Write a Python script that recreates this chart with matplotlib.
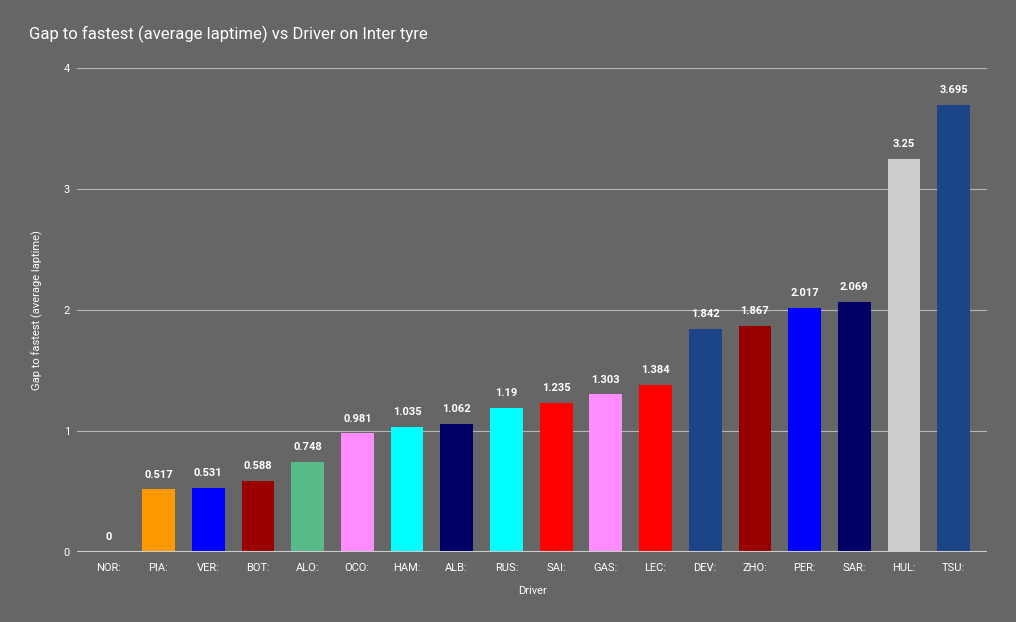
import matplotlib.pyplot as plt
import numpy as np

drivers = ['NOR:', 'PIA:', 'VER:', 'BOT:', 'ALO:', 'OCO:', 'HAM:', 'ALB:', 'RUS:',
           'SAI:', 'GAS:', 'LEC:', 'DEV:', 'ZHO:', 'PER:', 'SAR:', 'HUL:', 'TSU:']
gaps = [0, 0.517, 0.531, 0.588, 0.748, 0.981, 1.035, 1.062, 1.19,
        1.235, 1.303, 1.384, 1.842, 1.867, 2.017, 2.069, 3.25, 3.695]
bar_colors = ['#ff9900', '#ff9900', '#0000ff', '#990000', '#57bb8a', '#ff8cff', '#00ffff',
              '#000066', '#00ffff', '#ff0000', '#ff8cff', '#ff0000', '#1c4587', '#990000',
              '#0000ff', '#000066', '#cccccc', '#1c4587']

bg = '#666666'
plt.rcParams['font.family'] = ['Roboto', 'DejaVu Sans']

fig = plt.figure(figsize=(10.16, 6.22), dpi=100)
fig.patch.set_facecolor(bg)
ax = fig.add_axes([0.0758, 0.1125, 0.8957, 0.7782])
ax.set_facecolor(bg)

x = np.arange(len(drivers))
ax.bar(x, gaps, width=0.66, color=bar_colors, zorder=3)

# value labels above each bar
for xi, v in zip(x, gaps):
    ax.annotate(f'{v:g}', (xi, v), xytext=(0, 7), textcoords='offset points',
                ha='center', va='bottom', color='white', fontsize=8, fontweight='bold')

ax.set_ylim(0, 4)
ax.set_xlim(-0.64, len(drivers) - 0.33)
ax.set_yticks([0, 1, 2, 3, 4])
ax.set_xticks(x)
ax.set_xticklabels(drivers)
ax.grid(axis='y', color='#b7b7b7', linewidth=0.8, zorder=0)
ax.axhline(0, color='#cccccc', linewidth=1.5, zorder=4)
for s in ax.spines.values():
    s.set_visible(False)
ax.tick_params(axis='both', length=0, colors='white', labelsize=8)
ax.tick_params(axis='y', pad=5)
ax.tick_params(axis='x', pad=8)

ax.set_xlabel('Driver', color='white', fontsize=8, labelpad=9)
ax.set_ylabel('Gap to fastest (average laptime)', color='white', fontsize=8, labelpad=15)
fig.text(0.0285, 0.944, 'Gap to fastest (average laptime) vs Driver on Inter tyre',
         color='white', fontsize=12, ha='left', va='center')

fig.savefig('out.png', facecolor=bg)
